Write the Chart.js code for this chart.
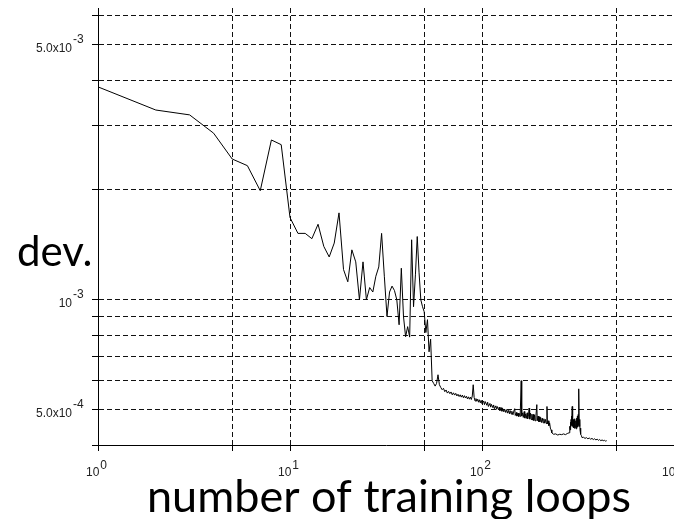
<!DOCTYPE html>
<html>
<head>
<meta charset="utf-8">
<script src="https://cdn.jsdelivr.net/npm/chart.js@4"></script>
<style>
  body { margin: 0; background: #fff; overflow: hidden; }
</style>
</head>
<body>
<canvas id="devChart" width="674" height="519"></canvas>
<script>
// training loops (x) and deviation (y)
const loops = [
  1, 2, 3, 4, 5, 6, 7, 8, 9, 10,
  11, 12, 13, 14, 15, 16, 17, 18, 19, 20,
  21, 22, 23, 24, 25, 26, 27, 28, 29, 30,
  31, 32, 33, 34, 35, 36, 37, 38, 39, 40,
  41, 42, 43, 44, 45, 46, 47, 48, 49, 50,
  51, 52, 53, 54, 55, 56, 57, 58, 59, 60,
  61, 62, 63, 64, 65, 66, 67, 68, 69, 70,
  71, 72, 73, 74, 75, 76, 77, 78, 79, 80,
  81, 82, 83, 84, 85, 86, 87, 88, 89, 90,
  91, 92, 93, 94, 95, 96, 97, 98, 99, 100,
  102, 103, 104, 106, 107, 108, 110, 111, 112, 114,
  115, 116, 118, 119, 120, 122, 123, 124, 126, 127,
  128, 130, 131, 133, 134, 136, 137, 139, 140, 142,
  143, 145, 146, 148, 149, 151, 152, 154, 155, 157,
  158, 160, 161, 163, 164, 166, 167, 169, 170, 172,
  173, 175, 176, 177, 179, 180, 182, 183, 185, 186,
  188, 189, 191, 193, 194, 196, 197, 199, 200, 202,
  204, 206, 208, 210, 212, 214, 216, 218, 219, 221,
  223, 225, 227, 229, 231, 236, 242, 248, 254, 260,
  266, 272, 278, 284, 286, 287, 288, 289, 290, 291,
  292, 293, 294, 295, 296, 297, 298, 299, 300, 302,
  303, 305, 306, 308, 309, 311, 312, 314, 315, 317,
  318, 320, 321, 323, 324, 326, 327, 329, 332, 338,
  344, 350, 356, 362, 368, 374, 380, 386, 392, 398,
  404, 410, 416, 422, 428, 434, 440, 446
];

const devValues = [
  3.83e-3, 3.31e-3, 3.21e-3, 2.86e-3, 2.43e-3, 2.33e-3, 1.99e-3, 2.74e-3, 2.66e-3, 1.68e-3,
  1.52e-3, 1.52e-3, 1.47e-3, 1.61e-3, 1.40e-3, 1.31e-3, 1.43e-3, 1.73e-3, 1.21e-3, 1.12e-3,
  1.37e-3, 1.27e-3, 1.00e-3, 1.27e-3, 1.00e-3, 1.08e-3, 1.05e-3, 1.16e-3, 1.23e-3, 1.52e-3,
  1.16e-3, 0.90e-3, 1.05e-3, 1.09e-3, 1.06e-3, 1.00e-3, 0.854e-3, 1.22e-3, 0.90e-3, 0.792e-3,
  0.844e-3, 0.79e-3, 1.46e-3, 0.957e-3, 1.17e-3, 1.49e-3, 1.19e-3, 1.00e-3, 0.957e-3, 0.927e-3,
  0.813e-3, 0.882e-3, 0.72e-3, 0.78e-3, 0.60e-3, 0.59e-3, 0.58e-3, 0.59e-3, 0.623e-3, 0.585e-3,
  0.575e-3, 0.567e-3, 0.572e-3, 0.560e-3, 0.566e-3, 0.555e-3, 0.561e-3, 0.553e-3, 0.559e-3, 0.549e-3,
  0.556e-3, 0.548e-3, 0.554e-3, 0.545e-3, 0.551e-3, 0.543e-3, 0.549e-3, 0.541e-3, 0.548e-3, 0.539e-3,
  0.546e-3, 0.538e-3, 0.544e-3, 0.535e-3, 0.542e-3, 0.534e-3, 0.541e-3, 0.533e-3, 0.545e-3, 0.585e-3,
  0.540e-3, 0.528e-3, 0.536e-3, 0.527e-3, 0.534e-3, 0.524e-3, 0.532e-3, 0.522e-3, 0.530e-3, 0.519e-3,
  0.528e-3, 0.516e-3, 0.526e-3, 0.514e-3, 0.524e-3, 0.510e-3, 0.520e-3, 0.508e-3, 0.517e-3, 0.506e-3,
  0.515e-3, 0.503e-3, 0.512e-3, 0.501e-3, 0.510e-3, 0.499e-3, 0.508e-3, 0.497e-3, 0.506e-3, 0.495e-3,
  0.504e-3, 0.493e-3, 0.502e-3, 0.491e-3, 0.500e-3, 0.489e-3, 0.498e-3, 0.487e-3, 0.497e-3, 0.486e-3,
  0.495e-3, 0.484e-3, 0.493e-3, 0.503e-3, 0.482e-3, 0.491e-3, 0.480e-3, 0.489e-3, 0.479e-3, 0.488e-3,
  0.478e-3, 0.600e-3, 0.480e-3, 0.490e-3, 0.476e-3, 0.494e-3, 0.474e-3, 0.487e-3, 0.473e-3, 0.490e-3,
  0.472e-3, 0.486e-3, 0.505e-3, 0.471e-3, 0.489e-3, 0.470e-3, 0.486e-3, 0.468e-3, 0.485e-3, 0.467e-3,
  0.484e-3, 0.466e-3, 0.482e-3, 0.516e-3, 0.466e-3, 0.480e-3, 0.464e-3, 0.478e-3, 0.463e-3, 0.476e-3,
  0.461e-3, 0.474e-3, 0.460e-3, 0.472e-3, 0.459e-3, 0.470e-3, 0.458e-3, 0.510e-3, 0.457e-3, 0.466e-3,
  0.452e-3, 0.460e-3, 0.445e-3, 0.440e-3, 0.432e-3, 0.428e-3, 0.429e-3, 0.426e-3, 0.428e-3, 0.427e-3,
  0.429e-3, 0.427e-3, 0.430e-3, 0.432e-3, 0.438e-3, 0.450e-3, 0.440e-3, 0.462e-3, 0.448e-3, 0.470e-3,
  0.452e-3, 0.480e-3, 0.455e-3, 0.510e-3, 0.450e-3, 0.475e-3, 0.448e-3, 0.470e-3, 0.446e-3, 0.468e-3,
  0.444e-3, 0.472e-3, 0.447e-3, 0.466e-3, 0.443e-3, 0.474e-3, 0.446e-3, 0.480e-3, 0.448e-3, 0.485e-3,
  0.452e-3, 0.570e-3, 0.450e-3, 0.470e-3, 0.440e-3, 0.445e-3, 0.428e-3, 0.425e-3, 0.419e-3, 0.420e-3,
  0.417e-3, 0.419e-3, 0.416e-3, 0.418e-3, 0.415e-3, 0.417e-3, 0.414e-3, 0.416e-3, 0.413e-3, 0.415e-3,
  0.412e-3, 0.414e-3, 0.411e-3, 0.413e-3, 0.411e-3, 0.412e-3, 0.410e-3, 0.411e-3
];

// grid lines
const xGridTicks = [1, 5, 10, 50, 100, 500, 1000];
const yGridTicks = [4e-4, 5e-4, 6e-4, 7e-4, 8e-4, 9e-4, 1e-3, 2e-3, 3e-3, 4e-3, 5e-3, 6e-3];

// labelled ticks: mantissa part + exponent
const xLabelValues = [1, 10, 100, 1000];
const xLabelBases = ['10', '10', '10', '10'];
const xLabelExps = ['0', '1', '2', '3'];
const yLabelValues = [5e-3, 1e-3, 5e-4];
const yLabelBases = ['5.0x10', '10', '5.0x10'];
const yLabelExps = ['-3', '-3', '-4'];

const xTitle = 'number of training loops';
const yTitle = 'dev.';

const points = loops.map((n, i) => ({x: n, y: devValues[i]}));

const labelPlugin = {
    id: 'expLabels',
    afterDraw(chart) {
        const ctx = chart.ctx;
        const xs = chart.scales.x;
        const ys = chart.scales.y;
        ctx.save();
        ctx.fillStyle = '#222';
        ctx.textBaseline = 'middle';
        ctx.font = '12px "Liberation Sans", Arial, sans-serif';

        yLabelValues.forEach((v, i) => {
            const py = ys.getPixelForValue(v);
            const right = ys.right - 26;
            ctx.textAlign = 'right';
            ctx.fillText(yLabelBases[i], right, py + 4);
            ctx.textAlign = 'left';
            ctx.fillText(yLabelExps[i], right + 1, py - 5);
        });

        xLabelValues.forEach((v, i) => {
            const px = xs.getPixelForValue(v);
            const left = px - 12;
            ctx.textAlign = 'left';
            ctx.fillText(xLabelBases[i], left, xs.top + 28);
            const w = ctx.measureText(xLabelBases[i]).width;
            ctx.fillText(xLabelExps[i], left + w + 1, xs.top + 21);
        });

        ctx.fillStyle = '#000';
        ctx.textBaseline = 'alphabetic';
        ctx.font = '42px Lato, "Open Sans", sans-serif';
        ctx.textAlign = 'left';
        ctx.fillText(yTitle, 17, 266);

        ctx.font = '45px Lato, "Open Sans", sans-serif';
        ctx.textAlign = 'center';
        const area = chart.chartArea;
        ctx.fillText(xTitle, (area.left + area.right) / 2 + 3, 512);
        ctx.restore();
    }
};

const config = {
    type: 'line',
    data: {
        datasets: [{
            data: points,
            borderColor: '#000',
            borderWidth: 1,
            pointRadius: 0,
            tension: 0,
            fill: false
        }]
    },
    options: {
        responsive: false,
        animation: false,
        layout: {
            padding: {top: 8, left: 0, right: 0, bottom: 0}
        },
        plugins: {
            legend: {display: false},
            tooltip: {enabled: false}
        },
        scales: {
            x: {
                type: 'logarithmic',
                min: 1,
                max: 1000,
                afterBuildTicks: (scale) => {
                    scale.ticks = xGridTicks.map(v => ({value: v}));
                },
                afterFit: (scale) => {
                    scale.height = 74;
                    scale.paddingLeft = 0;
                    scale.paddingRight = 0;
                },
                ticks: {display: false},
                grid: {
                    color: '#111',
                    lineWidth: 1,
                    tickLength: 6,
                    tickColor: '#000'
                },
                border: {
                    display: true,
                    color: '#000',
                    width: 1,
                    dash: [5, 3]
                }
            },
            y: {
                type: 'logarithmic',
                min: 4e-4,
                max: 6.3e-3,
                afterBuildTicks: (scale) => {
                    scale.ticks = yGridTicks.map(v => ({value: v}));
                },
                afterFit: (scale) => {
                    scale.width = 98;
                    scale.paddingTop = 0;
                    scale.paddingBottom = 0;
                },
                ticks: {display: false},
                grid: {
                    color: '#111',
                    lineWidth: 1,
                    tickLength: 6,
                    tickColor: '#000'
                },
                border: {
                    display: true,
                    color: '#000',
                    width: 1,
                    dash: [5, 3]
                }
            }
        }
    },
    plugins: [labelPlugin]
};

const devChart = new Chart(document.getElementById('devChart'), config);
</script>
</body>
</html>
